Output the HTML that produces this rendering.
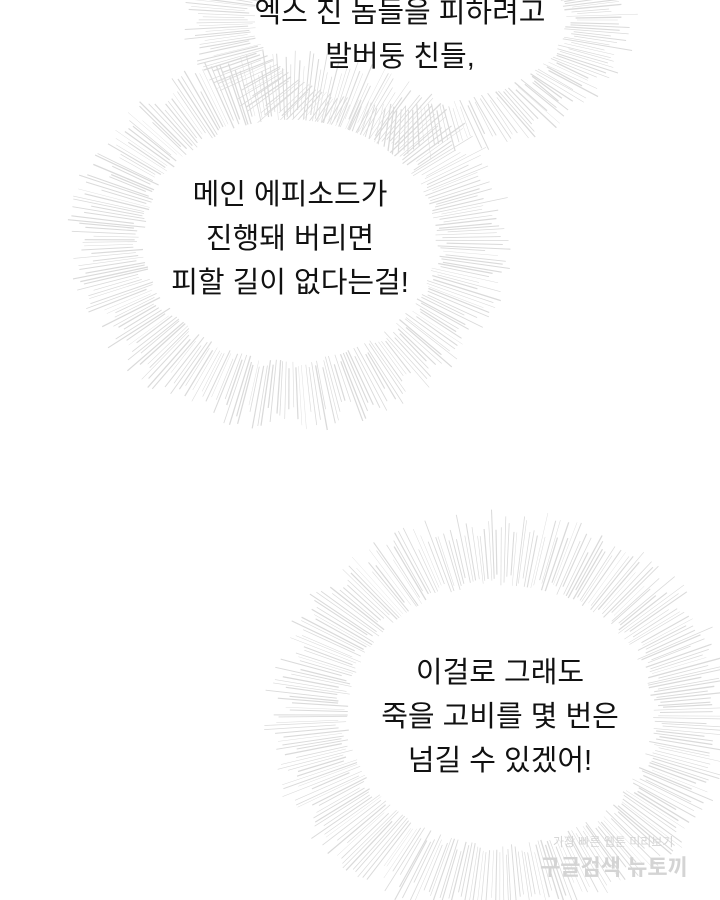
<!DOCTYPE html>
<html><head><meta charset="utf-8"><style>
body{margin:0;width:720px;height:900px;overflow:hidden;background:#fff;}
svg{position:absolute;left:0;top:0}
.t{position:absolute;font-family:"Liberation Sans","Noto Sans CJK KR",sans-serif;font-size:29px;color:#111;text-align:center;line-height:44px;white-space:nowrap}
.w{position:absolute;font-family:"Liberation Sans","Noto Sans CJK KR",sans-serif;color:#d4d4d4;white-space:nowrap}
</style></head><body>
<svg id="s" width="720" height="900"></svg>
<div class="t" style="left:240px;top:-9px;width:320px">엑스 진 놈들을 피하려고<br>발버둥 친들,</div>
<div class="t" style="left:150px;top:173px;width:280px">메인 에피소드가<br>진행돼 버리면<br>피할 길이 없다는걸!</div>
<div class="t" style="left:340px;top:651px;width:320px">이걸로 그래도<br>죽을 고비를 몇 번은<br>넘길 수 있겠어!</div>
<div class="w" style="left:553px;top:833px;font-size:12px">가장 빠른 웹툰 미리보기</div>
<div class="w" style="left:540px;top:850px;font-size:22px;font-weight:bold">구글검색 뉴토끼</div>
<script>
var s=document.getElementById('s'),h='';
var seed=7;function r(){seed=(seed*16807)%2147483647;return seed/2147483647;}
function b(cx,cy,rx,ry,rx2,ry2,n){
 for(var i=0;i<n;i++){var a=i/n*6.2832+r()*0.01;var c=Math.cos(a),si=Math.sin(a);
  var k=0.92+r()*0.1,k2=0.97+r()*0.15;
  var x1=cx+c*rx*k,y1=cy+si*ry*k,x2=cx+c*rx2*k2,y2=cy+si*ry2*k2;
  h+='<line x1="'+x1.toFixed(1)+'" y1="'+y1.toFixed(1)+'" x2="'+x2.toFixed(1)+'" y2="'+y2.toFixed(1)+'" stroke="#dadada" stroke-width="'+(0.4+r()*0.9).toFixed(2)+'"/>';}
 h+='<ellipse cx="'+cx+'" cy="'+cy+'" rx="'+rx*0.94+'" ry="'+ry*0.94+'" fill="#fff"/>';
}
b(410,20,165,90,205,125,260);
b(290,240,155,128,200,172,300);
b(500,715,162,138,212,185,320);
s.innerHTML=h;
</script>
</body></html>
